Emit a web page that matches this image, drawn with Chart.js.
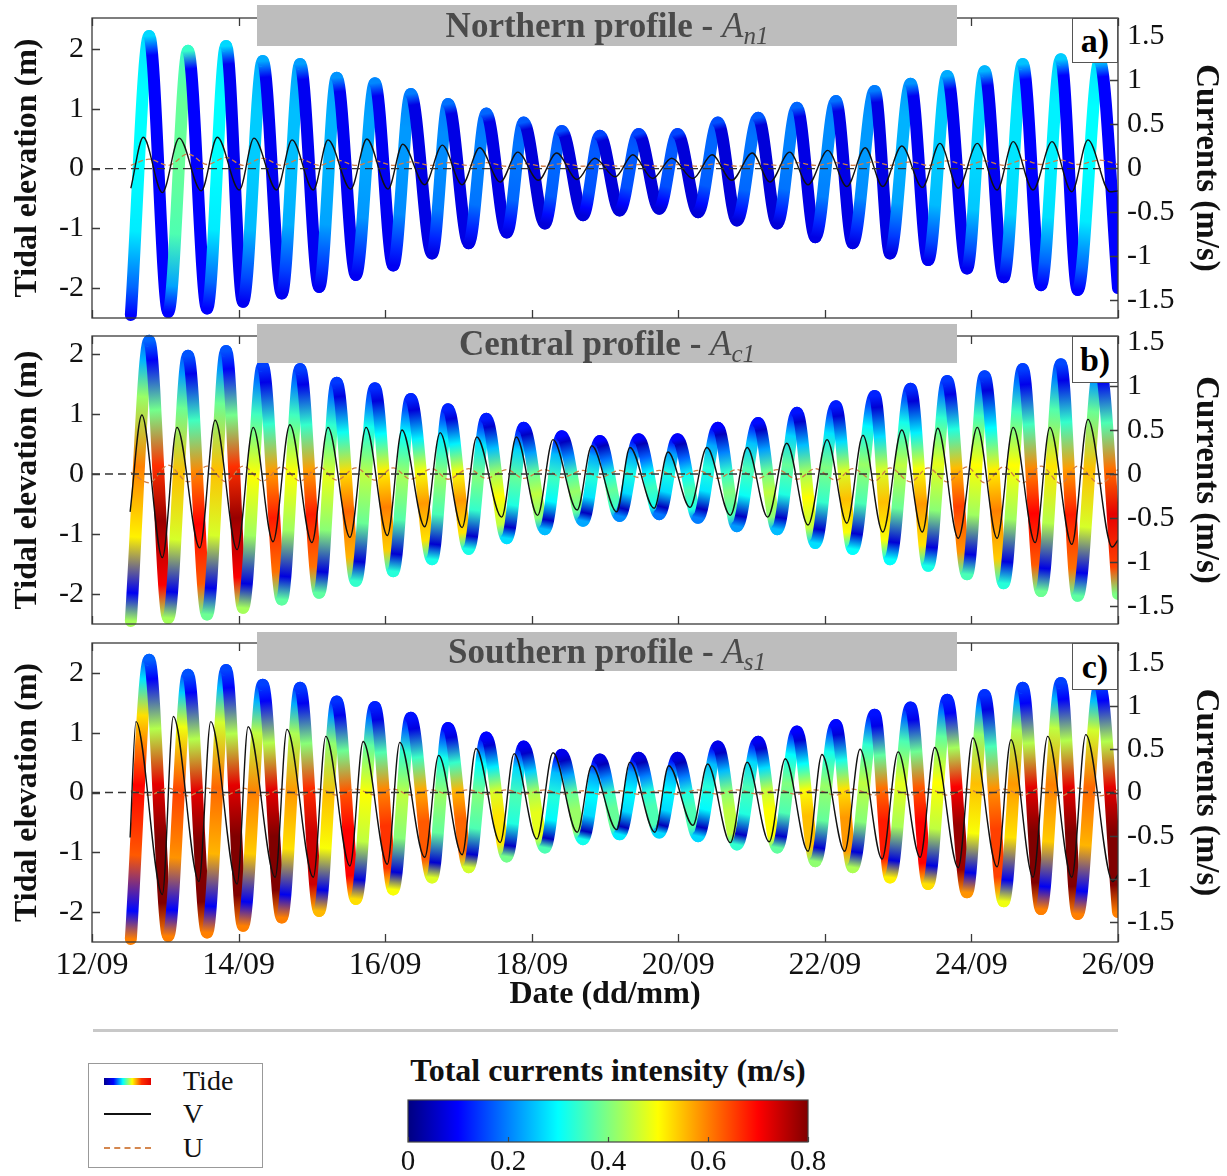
<!DOCTYPE html>
<html>
<head>
<meta charset="utf-8">
<script src="https://cdn.jsdelivr.net/npm/chart.js@4.4.1/dist/chart.umd.min.js"></script>
<style>
  body { margin: 0; background: #fff; font-family: 'Liberation Serif', serif; }
  #page { position: relative; width: 1227px; height: 1176px; overflow: hidden; background: #fff; }
  canvas { position: absolute; }
  .head { position: absolute; left: 257px; width: 700px; background: #bdbdbd; color: #4a4a4a;
          font-weight: bold; font-size: 35px; text-align: center; }
  .head i { font-weight: normal; }
  .head sub { font-size: 25px; vertical-align: -7px; }
  .tag { position: absolute; left: 1072px; width: 46px; border: 1px solid #555; background: #fff;
         box-sizing: border-box; font-weight: bold; font-size: 34px; text-align: center; }
  #rule { position: absolute; left: 93px; top: 1029px; width: 1025px; height: 3px; background: #c8c8c8; }
  #legend { position: absolute; left: 88px; top: 1063px; width: 175px; height: 105px;
            border: 1px solid #999; box-sizing: border-box; }
  .lg-line { position: absolute; left: 15px; width: 47px; }
  .lg-text { position: absolute; left: 94px; height: 30px; line-height: 30px; font-size: 28px; color: #111; }
  #cbTitle { position: absolute; left: 380px; top: 1051px; width: 456px; height: 38px; line-height: 38px;
             text-align: center; font-weight: bold; font-size: 32px; color: #111; }
</style>
</head>
<body>
<div id="page">
  <canvas id="panelA" width="1227" height="330" style="left:0;top:0"></canvas>
  <canvas id="panelB" width="1227" height="300" style="left:0;top:330px"></canvas>
  <canvas id="panelC" width="1227" height="380" style="left:0;top:636px"></canvas>

  <div class="head" style="top:5px;height:41px;line-height:41px">Northern profile - <i>A<sub>n1</sub></i></div>
  <div class="head" style="top:324px;height:39px;line-height:39px">Central profile - <i>A<sub>c1</sub></i></div>
  <div class="head" style="top:632px;height:39px;line-height:39px">Southern profile - <i>A<sub>s1</sub></i></div>

  <div class="tag" style="top:18px;height:45px;line-height:43px">a)</div>
  <div class="tag" style="top:336px;height:47px;line-height:45px">b)</div>
  <div class="tag" style="top:643px;height:47px;line-height:45px">c)</div>

  <div id="rule"></div>

  <div id="legend">
    <div class="lg-line" style="top:14px;height:7px;background:linear-gradient(to right,#00008f,#0000ff,#00ffff,#ffff00,#ff3000,#e00000)"></div>
    <div class="lg-text" style="top:2px">Tide</div>
    <div class="lg-line" style="top:49px;height:2px;background:#111"></div>
    <div class="lg-text" style="top:35px">V</div>
    <div class="lg-line" style="top:83px;height:0;border-top:2px dashed #d4874f"></div>
    <div class="lg-text" style="top:69px">U</div>
  </div>

  <div id="cbTitle">Total currents intensity (m/s)</div>
  <canvas id="colorbar" width="470" height="84" style="left:380px;top:1092px"></canvas>
</div>

<script>
// Axis ticks
const dateTicks = [12, 14, 16, 18, 20, 22, 24, 26];
const elevationTicks = [-2, -1, 0, 1, 2];
const currentTicks = [-1.5, -1, -0.5, 0, 0.5, 1, 1.5];
const intensityTicks = [0, 0.2, 0.4, 0.6, 0.8];

// Tide (same record in all three panels): low and high waters, day of September
const tideLowDays = [12.53, 13.04, 13.57, 14.06, 14.59, 15.10, 15.60, 16.11, 16.64, 17.14, 17.66, 18.18, 18.70,
  19.20, 19.74, 20.27, 20.80, 21.35, 21.87, 22.38, 22.89, 23.41, 23.94, 24.44, 24.95, 25.45, 26.00];
const tideLowLevels = [-2.45, -2.40, -2.34, -2.23, -2.09, -1.98, -1.78, -1.62, -1.42, -1.25, -1.07, -0.92, -0.78,
  -0.70, -0.67, -0.73, -0.87, -0.92, -1.15, -1.25, -1.42, -1.53, -1.67, -1.82, -1.95, -2.03, -2.00];
const tideHighDays = [12.78, 13.31, 13.83, 14.33, 14.84, 15.34, 15.86, 16.35, 16.86, 17.38, 17.89, 18.41, 18.93,
  19.46, 19.99, 20.54, 21.09, 21.62, 22.15, 22.68, 23.17, 23.67, 24.18, 24.70, 25.22, 25.75];
const tideHighLevels = [2.22, 1.97, 2.05, 1.80, 1.75, 1.52, 1.43, 1.25, 1.08, 0.92, 0.77, 0.63, 0.55,
  0.58, 0.58, 0.77, 0.85, 1.02, 1.13, 1.30, 1.42, 1.55, 1.63, 1.75, 1.83, 1.80];

// V component (m/s), turning points
const vDaysA = [12.53, 12.70, 12.96, 13.19, 13.49, 13.71, 14.01, 14.21, 14.52, 14.73, 15.02, 15.22, 15.53, 15.75,
  16.04, 16.24, 16.54, 16.78, 17.05, 17.29, 17.57, 17.81, 18.09, 18.34, 18.62, 18.86, 19.14, 19.38, 19.65, 19.91,
  20.20, 20.46, 20.73, 21.01, 21.25, 21.52, 21.77, 22.04, 22.30, 22.55, 22.79, 23.05, 23.33, 23.57, 23.82, 24.08,
  24.35, 24.57, 24.84, 25.10, 25.37, 25.59, 25.89, 26.00];
const vValsA = [-0.23, 0.35, -0.28, 0.34, -0.26, 0.35, -0.25, 0.34, -0.25, 0.32, -0.25, 0.32, -0.24, 0.33,
  -0.24, 0.27, -0.19, 0.26, -0.19, 0.23, -0.16, 0.18, -0.14, 0.17, -0.13, 0.11, -0.10, 0.15, -0.12, 0.11,
  -0.12, 0.15, -0.14, 0.17, -0.16, 0.18, -0.19, 0.20, -0.21, 0.23, -0.21, 0.25, -0.22, 0.28, -0.23, 0.28,
  -0.25, 0.30, -0.25, 0.30, -0.27, 0.32, -0.27, -0.26];
const vDaysB = [12.52, 12.68, 12.96, 13.16, 13.47, 13.68, 13.98, 14.20, 14.47, 14.70, 15.00, 15.22, 15.52, 15.74,
  16.03, 16.23, 16.54, 16.75, 17.05, 17.25, 17.59, 17.79, 18.08, 18.29, 18.62, 18.82, 19.16, 19.34, 19.67, 19.86,
  20.16, 20.39, 20.71, 20.94, 21.22, 21.48, 21.77, 22.03, 22.30, 22.52, 22.79, 23.05, 23.33, 23.54, 23.82, 24.08,
  24.35, 24.57, 24.87, 25.07, 25.37, 25.59, 25.92, 26.00];
const vValsB = [-0.43, 0.67, -0.95, 0.53, -0.84, 0.61, -0.86, 0.53, -0.77, 0.56, -0.78, 0.53, -0.72, 0.53,
  -0.70, 0.50, -0.60, 0.47, -0.61, 0.42, -0.49, 0.42, -0.47, 0.39, -0.41, 0.32, -0.43, 0.30, -0.39, 0.25,
  -0.38, 0.30, -0.47, 0.30, -0.49, 0.35, -0.58, 0.39, -0.56, 0.44, -0.66, 0.50, -0.66, 0.52, -0.73, 0.53,
  -0.73, 0.53, -0.78, 0.53, -0.80, 0.62, -0.83, -0.75];
const vDaysC = [12.52, 12.60, 12.96, 13.11, 13.46, 13.62, 13.98, 14.13, 14.50, 14.66, 15.02, 15.19, 15.52, 15.70,
  16.03, 16.20, 16.54, 16.73, 17.05, 17.24, 17.57, 17.76, 18.07, 18.29, 18.62, 18.82, 19.16, 19.34, 19.68, 19.87,
  20.20, 20.40, 20.71, 20.94, 21.24, 21.46, 21.77, 21.96, 22.27, 22.48, 22.78, 23.00, 23.30, 23.50, 23.82, 24.02,
  24.35, 24.54, 24.84, 25.04, 25.37, 25.56, 25.93, 26.00];
const vValsC = [-0.52, 0.82, -1.18, 0.88, -1.03, 0.82, -1.06, 0.76, -0.98, 0.73, -0.98, 0.65, -0.85, 0.59,
  -0.83, 0.58, -0.75, 0.43, -0.72, 0.51, -0.58, 0.45, -0.54, 0.46, -0.46, 0.31, -0.43, 0.35, -0.46, 0.31,
  -0.38, 0.33, -0.58, 0.35, -0.57, 0.39, -0.68, 0.44, -0.68, 0.50, -0.77, 0.47, -0.75, 0.52, -0.87, 0.63,
  -0.86, 0.61, -0.98, 0.65, -0.98, 0.67, -1.03, -0.95];

// U component (m/s) at low and high waters
const uLowA = [0.03, 0.03, 0.04, 0.03, 0.03, 0.03, 0.03, 0.03, 0.03, 0.03, 0.02, 0.02, 0.02, 0.02,
  0.02, 0.02, 0.02, 0.03, 0.03, 0.03, 0.03, 0.03, 0.03, 0.03, 0.04, 0.04, 0.04];
const uHighA = [0.10, 0.16, 0.12, 0.11, 0.10, 0.09, 0.08, 0.07, 0.06, 0.06, 0.05, 0.05, 0.04,
  0.04, 0.04, 0.05, 0.05, 0.06, 0.06, 0.07, 0.07, 0.08, 0.08, 0.09, 0.09, 0.09];
const uLowB = [0.02, 0.10, 0.09, 0.09, 0.08, 0.08, 0.07, 0.07, 0.06, 0.06, 0.05, 0.05, 0.04, 0.04,
  0.04, 0.04, 0.05, 0.05, 0.06, 0.06, 0.07, 0.07, 0.08, 0.08, 0.09, 0.09, 0.05];
const uHighB = [-0.10, -0.09, -0.09, -0.08, -0.08, -0.07, -0.07, -0.06, -0.06, -0.05, -0.05, -0.04, -0.04,
  -0.04, -0.04, -0.05, -0.05, -0.06, -0.07, -0.08, -0.09, -0.09, -0.10, -0.10, -0.11, -0.11];
const uLowC = [0.02, 0.05, 0.05, 0.05, 0.04, 0.04, 0.04, 0.04, 0.03, 0.03, 0.03, 0.03, 0.02, 0.02,
  0.02, 0.03, 0.03, 0.03, 0.03, 0.04, 0.04, 0.04, 0.04, 0.04, 0.05, 0.05, 0.03];
const uHighC = [-0.03, -0.04, -0.03, -0.04, -0.03, -0.03, -0.03, -0.03, -0.02, -0.02, -0.02, -0.02, -0.02,
  -0.02, -0.02, -0.02, -0.02, -0.02, -0.03, -0.03, -0.03, -0.03, -0.03, -0.03, -0.04, -0.04];

// Total current intensity (m/s): strongest value on each flood (rising) and ebb (falling) limb
const riseA = [0.30, 0.38, 0.30, 0.26, 0.25, 0.24, 0.23, 0.22, 0.21, 0.20, 0.19, 0.18, 0.17,
  0.17, 0.17, 0.18, 0.19, 0.20, 0.21, 0.22, 0.24, 0.26, 0.27, 0.28, 0.29, 0.30];
const fallA = [0.10, 0.10, 0.09, 0.09, 0.09, 0.09, 0.09, 0.08, 0.08, 0.08, 0.07, 0.07, 0.07,
  0.07, 0.07, 0.07, 0.07, 0.08, 0.08, 0.08, 0.09, 0.09, 0.09, 0.10, 0.10, 0.10];
const riseB = [0.60, 0.55, 0.55, 0.50, 0.50, 0.48, 0.45, 0.43, 0.42, 0.40, 0.38, 0.35, 0.33,
  0.32, 0.32, 0.33, 0.36, 0.38, 0.40, 0.42, 0.45, 0.48, 0.50, 0.50, 0.52, 0.55];
const fallB = [0.78, 0.70, 0.78, 0.68, 0.68, 0.62, 0.60, 0.58, 0.58, 0.50, 0.45, 0.42, 0.38,
  0.35, 0.36, 0.40, 0.45, 0.50, 0.55, 0.55, 0.58, 0.65, 0.60, 0.70, 0.68, 0.72];
const riseC = [0.70, 0.65, 0.62, 0.60, 0.58, 0.55, 0.50, 0.45, 0.42, 0.40, 0.36, 0.33, 0.30,
  0.30, 0.30, 0.33, 0.36, 0.40, 0.42, 0.45, 0.48, 0.50, 0.55, 0.58, 0.60, 0.62];
const fallC = [0.80, 0.80, 0.80, 0.80, 0.74, 0.70, 0.66, 0.63, 0.62, 0.52, 0.48, 0.42, 0.38,
  0.36, 0.36, 0.45, 0.50, 0.55, 0.58, 0.68, 0.70, 0.78, 0.65, 0.80, 0.80, 0.80];

// How intensity changes along a limb (share of the limb maximum at these fractions of the limb)
const riseFrac = [0.1, 0.3, 0.55, 0.8, 0.93];
const fallFrac = [0.07, 0.25, 0.45, 0.65, 0.88];
const profileA = { riseW: [0.6, 0.95, 1, 1, 0.95], fallW: [1, 1, 1, 1, 1], peakRatio: 0.9, troughRatio: 1.0 };
const profileB = { riseW: [0.15, 0.85, 1, 0.7, 0.4], fallW: [0.12, 0.5, 0.85, 1, 0.9], peakRatio: 0.3, troughRatio: 0.55 };
const profileC = { riseW: [0.15, 0.9, 1, 0.75, 0.4], fallW: [0.12, 0.55, 0.9, 1, 1], peakRatio: 0.25, troughRatio: 0.75 };

Chart.defaults.font.family = "'Liberation Serif', 'Times New Roman', serif";
Chart.defaults.color = '#111';

// Helpers
const zip = (xs, ys) => xs.map((x, i) => ({ x: x, y: ys[i] }));

// tide and U share the low/high water times: T0, P0, T1, P1, ..., T26
function interleave(lows, highs) {
  const out = [];
  highs.forEach((h, k) => { out.push(lows[k]); out.push(h); });
  out.push(lows[lows.length - 1]);
  return out;
}
const tideDays = interleave(tideLowDays, tideHighDays);
const tideLevels = interleave(tideLowLevels, tideHighLevels);

function jet(v) {
  const t = Math.min(1, Math.max(0, v / 0.8));
  const f = c => Math.round(255 * Math.min(1, Math.max(0, 1.5 - Math.abs(4 * t - c))));
  return `rgb(${f(3)},${f(2)},${f(1)})`;
}

function tideGradient(c, p) {
  const i = c.p0DataIndex;
  const k = Math.floor(i / 2);
  const g = c.chart.ctx.createLinearGradient(c.p0.x, c.p0.y, c.p1.x, c.p1.y);
  const pr = p.profile;
  let stops;
  if (i % 2 === 0) {
    const start = pr.troughRatio * p.fall[Math.max(0, k - 1)];
    const end = pr.peakRatio * p.rise[k];
    stops = [[0, start]].concat(riseFrac.map((f, j) => [f, pr.riseW[j] * p.rise[k]]), [[1, end]]);
  } else {
    const start = pr.peakRatio * p.rise[k];
    const end = pr.troughRatio * p.fall[k];
    stops = [[0, start]].concat(fallFrac.map((f, j) => [f, pr.fallW[j] * p.fall[k]]), [[1, end]]);
  }
  stops.forEach(s => g.addColorStop(s[0], jet(s[1])));
  return g;
}

// keep the plot box where it is: no extra room for end labels
function noEdgePadding(s) {
  s.paddingTop = 0; s.paddingBottom = 0; s.paddingLeft = 0; s.paddingRight = 0;
}

// frame and inward tick marks, MATLAB style
const frameTicks = {
  id: 'frameTicks',
  afterDatasetsDraw(chart) {
    const { ctx, chartArea: a, scales } = chart;
    const len = 8;
    ctx.save();
    ctx.strokeStyle = '#3a3a3a';
    ctx.lineWidth = 1.3;
    ctx.beginPath();
    scales.x.ticks.forEach(t => {
      const px = Math.round(scales.x.getPixelForValue(t.value)) + 0.5;
      ctx.moveTo(px, a.bottom); ctx.lineTo(px, a.bottom - len);
      ctx.moveTo(px, a.top); ctx.lineTo(px, a.top + len);
    });
    scales.y.ticks.forEach(t => {
      const py = Math.round(scales.y.getPixelForValue(t.value)) + 0.5;
      ctx.moveTo(a.left, py); ctx.lineTo(a.left + len, py);
    });
    scales.y2.ticks.forEach(t => {
      const py = Math.round(scales.y2.getPixelForValue(t.value)) + 0.5;
      ctx.moveTo(a.right, py); ctx.lineTo(a.right - len, py);
    });
    ctx.stroke();
    ctx.strokeRect(a.left, a.top, a.right - a.left, a.bottom - a.top);
    ctx.restore();
  }
};

const panels = [
  { id: 'panelA', padTop: 18, xHeight: 12, yMin: -2.5, yMax: 2.52, y2Min: -1.705, y2Max: 1.705,
    vDays: vDaysA, vVals: vValsA, u: interleave(uLowA, uHighA), rise: riseA, fall: fallA, profile: profileA, bottom: false },
  { id: 'panelB', padTop: 6, xHeight: 6, yMin: -2.5, yMax: 2.3, y2Min: -1.705, y2Max: 1.568,
    vDays: vDaysB, vVals: vValsB, u: interleave(uLowB, uHighB), rise: riseB, fall: fallB, profile: profileB, bottom: false },
  { id: 'panelC', padTop: 7, xHeight: 74, yMin: -2.5, yMax: 2.5, y2Min: -1.73, y2Max: 1.73,
    vDays: vDaysC, vVals: vValsC, u: interleave(uLowC, uHighC), rise: riseC, fall: fallC, profile: profileC, bottom: true }
];

function renderPanel(p) {
  new Chart(document.getElementById(p.id), {
    type: 'line',
    data: {
      datasets: [
        { label: 'V', data: zip(p.vDays, p.vVals), yAxisID: 'y2', borderColor: '#111', borderWidth: 1.4,
          pointRadius: 0, cubicInterpolationMode: 'monotone', order: 1 },
        { label: 'U', data: zip(tideDays, p.u), yAxisID: 'y2', borderColor: '#cf7d45', borderWidth: 1.3,
          borderDash: [5, 3], pointRadius: 0, cubicInterpolationMode: 'monotone', order: 2 },
        { label: 'zero', data: zip([12, 26], [0, 0]), yAxisID: 'y', borderColor: '#333', borderWidth: 1.3,
          borderDash: [8, 5], pointRadius: 0, order: 0 },
        { label: 'Tide', data: zip(tideDays, tideLevels), yAxisID: 'y', borderColor: '#0000ff', borderWidth: 12,
          borderCapStyle: 'round', borderJoinStyle: 'round', pointRadius: 0, cubicInterpolationMode: 'monotone',
          order: 5, clip: { left: 0, top: 7, right: 0, bottom: 7 },
          segment: {
            borderColor: c => tideGradient(c, p),
            borderDashOffset: c => c.p0DataIndex,
            borderWidth: 12,
            borderCapStyle: 'round'
          } }
      ]
    },
    options: {
      responsive: false,
      animation: false,
      events: [],
      layout: { padding: { top: p.padTop, left: 0, right: 0, bottom: 0 } },
      plugins: { legend: { display: false }, tooltip: { enabled: false } },
      scales: {
        x: {
          type: 'linear', min: 12, max: 26,
          grid: { display: false, drawTicks: false }, border: { display: false },
          afterBuildTicks: s => { s.ticks = dateTicks.map(v => ({ value: v })); },
          afterFit: s => { s.height = p.xHeight; noEdgePadding(s); },
          ticks: { display: p.bottom, maxRotation: 0, autoSkip: false, padding: 4,
                   font: { size: 32 }, color: '#111', callback: v => v + '/09' },
          title: { display: p.bottom, text: 'Date (dd/mm)', font: { size: 32, weight: 'bold' },
                   color: '#111', padding: { top: 0, bottom: 2 } }
        },
        y: {
          position: 'left', min: p.yMin, max: p.yMax,
          grid: { display: false, drawTicks: false }, border: { display: false },
          afterBuildTicks: s => { s.ticks = elevationTicks.map(v => ({ value: v })); },
          afterFit: s => { s.width = 92; noEdgePadding(s); },
          ticks: { padding: 8, font: { size: 30 }, color: '#111', callback: v => String(v) },
          title: { display: true, text: 'Tidal elevation (m)', font: { size: 32, weight: 'bold' },
                   color: '#111', padding: { top: 9, bottom: 0 } }
        },
        y2: {
          position: 'right', min: p.y2Min, max: p.y2Max,
          grid: { display: false, drawTicks: false }, border: { display: false },
          afterBuildTicks: s => { s.ticks = currentTicks.map(v => ({ value: v })); },
          afterFit: s => { s.width = 109; noEdgePadding(s); },
          ticks: { padding: 9, font: { size: 30 }, color: '#111', callback: v => String(v) },
          title: { display: true, text: 'Currents (m/s)', font: { size: 33, weight: 'bold' },
                   color: '#111', padding: { top: 2, bottom: 0 } }
        }
      }
    },
    plugins: [frameTicks]
  });
}

panels.forEach(renderPanel);

// Colour bar
const colorbarFill = {
  id: 'colorbarFill',
  beforeDatasetsDraw(chart) {
    const { ctx, chartArea: a, scales } = chart;
    const g = ctx.createLinearGradient(a.left, 0, a.right, 0);
    for (let s = 0; s <= 16; s++) g.addColorStop(s / 16, jet(scales.x.min + (scales.x.max - scales.x.min) * s / 16));
    ctx.save();
    ctx.fillStyle = g;
    ctx.fillRect(a.left, a.top, a.right - a.left, a.bottom - a.top);
    ctx.strokeStyle = '#444';
    ctx.lineWidth = 1.2;
    ctx.beginPath();
    scales.x.ticks.forEach(t => {
      const px = Math.round(scales.x.getPixelForValue(t.value)) + 0.5;
      ctx.moveTo(px, a.bottom); ctx.lineTo(px, a.bottom - 5);
    });
    ctx.stroke();
    ctx.strokeRect(a.left, a.top, a.right - a.left, a.bottom - a.top);
    ctx.restore();
  }
};

new Chart(document.getElementById('colorbar'), {
  type: 'scatter',
  data: { datasets: [{ data: [] }] },
  options: {
    responsive: false,
    animation: false,
    events: [],
    layout: { padding: { top: 8, left: 28, right: 42, bottom: 0 } },
    plugins: { legend: { display: false }, tooltip: { enabled: false } },
    scales: {
      x: {
        type: 'linear', min: 0, max: 0.8,
        grid: { display: false, drawTicks: false }, border: { display: false },
        afterBuildTicks: s => { s.ticks = intensityTicks.map(v => ({ value: v })); },
        afterFit: s => { s.height = 34; noEdgePadding(s); },
        ticks: { padding: 3, maxRotation: 0, autoSkip: false, font: { size: 29 }, color: '#111',
                 callback: v => String(v) }
      },
      y: { display: false, min: 0, max: 1 }
    }
  },
  plugins: [colorbarFill]
});
</script>
</body>
</html>
